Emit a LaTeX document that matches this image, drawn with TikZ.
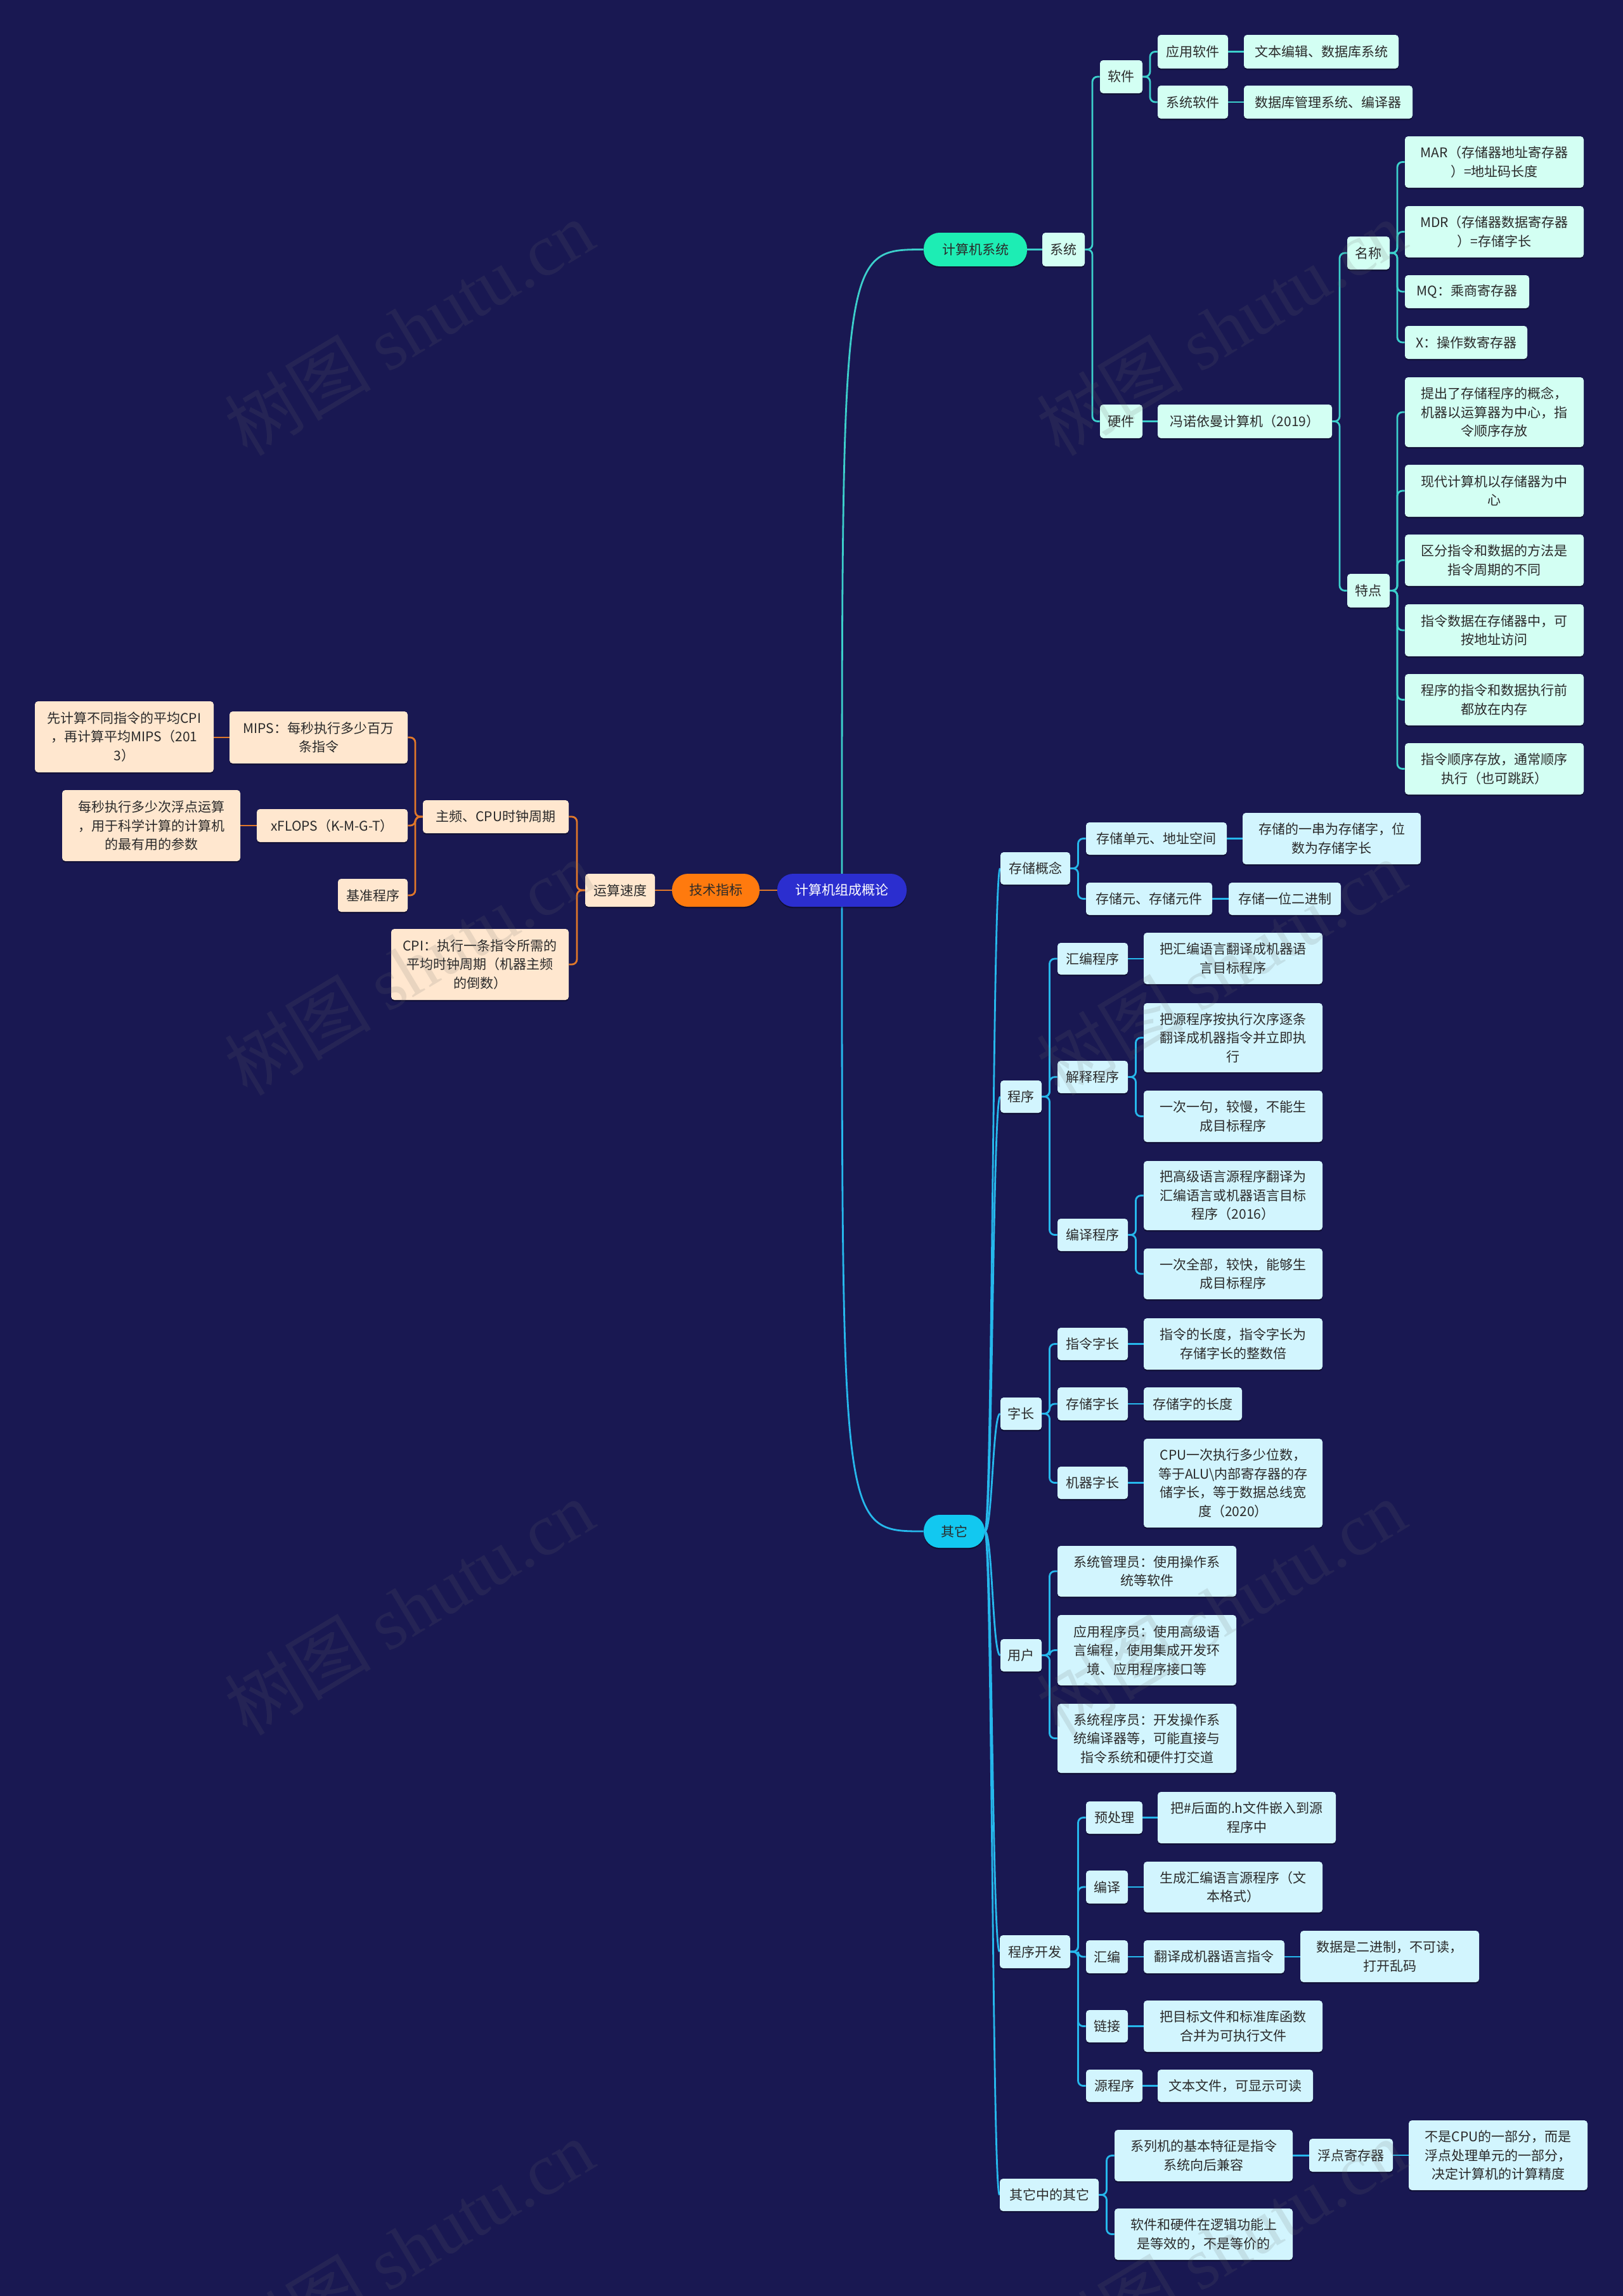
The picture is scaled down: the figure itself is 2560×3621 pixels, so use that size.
\documentclass[tikz,border=0pt]{standalone}
\usepackage{fontspec}
\setmainfont{Noto Sans CJK SC}
\newfontfamily\wmserif{Liberation Serif}
\usetikzlibrary{calc,shadows}
\pgfdeclarelayer{bg}\pgfdeclarelayer{edges}\pgfdeclarelayer{wm}
\pgfsetlayers{bg,edges,main,wm}
\definecolor{bgc}{HTML}{191852}
\definecolor{rootc}{HTML}{2B2ECF}
\definecolor{orangec}{HTML}{FF7A0E}
\definecolor{tealc}{HTML}{1DEDB4}
\definecolor{cyanc}{HTML}{12C8F0}
\definecolor{peach}{HTML}{FFE7CF}
\definecolor{mint}{HTML}{D3FFF3}
\definecolor{pcyan}{HTML}{D2F5FE}
\definecolor{lorange}{HTML}{E0782A}
\definecolor{lteal}{HTML}{3CCFCB}
\definecolor{lsky}{HTML}{26B8EC}
\definecolor{txt}{HTML}{2A2A2A}
\definecolor{wmc}{HTML}{6A6A6A}
\tikzset{
 mm/.style={inner sep=0pt, align=center, rounded corners=2.5pt, text=txt,
   font=\fontsize{10.5pt}{14.75pt}\selectfont,
   drop shadow={shadow xshift=0pt, shadow yshift=-1.2pt, opacity=0.35, fill=black}},
 pe/.style={mm, fill=peach},
 mi/.style={mm, fill=mint},
 cy/.style={mm, fill=pcyan},
 pill/.style={mm, rounded corners=12.5pt},
 eo/.style={draw=lorange, line width=1.4pt, rounded corners=4pt},
 et/.style={draw=lteal, line width=1.4pt, rounded corners=4pt},
 es/.style={draw=lsky, line width=1.4pt, rounded corners=4pt},
 wmk/.style={rotate=31, text=wmc, text opacity=0.15, inner sep=0pt,
   font=\fontsize{58pt}{60pt}\selectfont}
}
\newcommand\mnode[7][]{\node[#1, minimum width={0.5pt*(#5-#3)}, minimum height={0.5pt*(#6-#4)}] (#2) at ({(#3+#5)/2},{(#4+#6)/2}) {#7};}
\newcommand\elR[3][]{\path ($(#2.east)!0.5!(#3.west)$) coordinate (tmpm);
  \draw[#1] (#2.east) -- (#2.east -| tmpm) |- (#3.west);}
\newcommand\elL[3][]{\path ($(#2.west)!0.5!(#3.east)$) coordinate (tmpm);
  \draw[#1] (#2.west) -- (#2.west -| tmpm) |- (#3.east);}
\newcommand\stR[3][]{\draw[#1] (#2.east) -- (#2.east -| #3.west);}
\newcommand\stL[3][]{\draw[#1] (#2.west) -- (#2.west -| #3.east);}
\newcommand\scR[3][]{\path ($(#2.east)!0.5!(#3.west)$) coordinate (tmpm);
  \draw[#1] (#2.east) .. controls (#2.east -| tmpm) and (#3.west -| tmpm) .. (#3.west);}
\begin{document}
\begin{tikzpicture}[x=0.5pt,y=-0.5pt]
\useasboundingbox (0,0) rectangle (2560,3621);
\begin{pgfonlayer}{bg}
\fill[bgc] (0,0) rectangle (2560,3621);
\end{pgfonlayer}
% ---------- root & left branch ----------
\mnode[pill, fill=rootc, text=white]{root}{1226}{1378}{1430}{1430}{计算机组成概论}
\mnode[pill, fill=orangec]{jszb}{1060}{1378}{1198}{1430}{技术指标}
\mnode[pe]{yssd}{923}{1378}{1033}{1430}{运算速度}
\mnode[pe]{zp}{667}{1262}{897}{1314}{主频、CPU时钟周期}
\mnode[pe]{cpi}{617}{1465}{897}{1577}{CPI：执行一条指令所需的\\平均时钟周期（机器主频\\的倒数）}
\mnode[pe]{mips}{362}{1122}{643}{1204}{MIPS：每秒执行多少百万\\条指令}
\mnode[pe]{xflops}{405}{1276}{643}{1328}{xFLOPS（K-M-G-T）}
\mnode[pe]{jzcx}{533}{1386}{643}{1438}{基准程序}
\mnode[pe]{xjs}{55}{1106}{337}{1218}{先计算不同指令的平均CPI\\，再计算平均MIPS（201\\3）}
\mnode[pe]{mmz}{98}{1246}{379}{1358}{每秒执行多少次浮点运算\\，用于科学计算的计算机\\的最有用的参数}
% ---------- 计算机系统 ----------
\mnode[pill, fill=tealc]{jsjxt}{1457}{367}{1620}{420}{计算机系统}
\mnode[mi]{xt}{1644}{367}{1711}{420}{系统}
\mnode[mi]{rj}{1735}{95}{1802}{147}{软件}
\mnode[mi]{yj}{1735}{638}{1802}{691}{硬件}
\mnode[mi]{yyrj}{1826}{55}{1937}{108}{应用软件}
\mnode[mi]{xtrj}{1826}{135}{1937}{187}{系统软件}
\mnode[mi]{wbbj}{1962}{55}{2206}{108}{文本编辑、数据库系统}
\mnode[mi]{sjkgl}{1962}{135}{2228}{187}{数据库管理系统、编译器}
\mnode[mi]{fnym}{1826}{638}{2101}{691}{冯诺依曼计算机（2019）}
\mnode[mi]{mc}{2125}{373}{2192}{425}{名称}
\mnode[mi]{td}{2125}{905}{2192}{958}{特点}
\mnode[mi]{mar}{2216}{215}{2498}{296}{MAR（存储器地址寄存器\\）=地址码长度}
\mnode[mi]{mdr}{2216}{325}{2498}{406}{MDR（存储器数据寄存器\\）=存储字长}
\mnode[mi]{mq}{2216}{434}{2412}{486}{MQ：乘商寄存器}
\mnode[mi]{xop}{2216}{514}{2409}{566}{X：操作数寄存器}
\mnode[mi]{tca}{2216}{595}{2498}{705}{提出了存储程序的概念，\\机器以运算器为中心，指\\令顺序存放}
\mnode[mi]{tcb}{2216}{733}{2498}{815}{现代计算机以存储器为中\\心}
\mnode[mi]{tcc}{2216}{843}{2498}{924}{区分指令和数据的方法是\\指令周期的不同}
\mnode[mi]{tcd}{2216}{953}{2498}{1035}{指令数据在存储器中，可\\按地址访问}
\mnode[mi]{tce}{2216}{1063}{2498}{1144}{程序的指令和数据执行前\\都放在内存}
\mnode[mi]{tcf}{2216}{1172}{2498}{1253}{指令顺序存放，通常顺序\\执行（也可跳跃）}
% ---------- 其它 ----------
\mnode[pill, fill=cyanc]{qt}{1457}{2389}{1553}{2441}{其它}
\mnode[cy]{ccgn}{1578}{1344}{1688}{1395}{存储概念}
\mnode[cy]{ccdy}{1713}{1297}{1935}{1348}{存储单元、地址空间}
\mnode[cy]{ccdyt}{1960}{1282}{2241}{1363}{存储的一串为存储字，位\\数为存储字长}
\mnode[cy]{ccy}{1713}{1392}{1912}{1443}{存储元、存储元件}
\mnode[cy]{ccyt}{1938}{1392}{2115}{1443}{存储一位二进制}
\mnode[cy]{cx}{1578}{1704}{1643}{1755}{程序}
\mnode[cy]{hbcx}{1668}{1487}{1779}{1537}{汇编程序}
\mnode[cy]{hbcxt}{1804}{1471}{2086}{1552}{把汇编语言翻译成机器语\\言目标程序}
\mnode[cy]{jscx}{1668}{1673}{1779}{1724}{解释程序}
\mnode[cy]{jsa}{1804}{1582}{2086}{1691}{把源程序按执行次序逐条\\翻译成机器指令并立即执\\行}
\mnode[cy]{jsb}{1804}{1720}{2086}{1801}{一次一句，较慢，不能生\\成目标程序}
\mnode[cy]{bycx}{1668}{1922}{1779}{1973}{编译程序}
\mnode[cy]{bya}{1804}{1831}{2086}{1940}{把高级语言源程序翻译为\\汇编语言或机器语言目标\\程序（2016）}
\mnode[cy]{byb}{1804}{1969}{2086}{2049}{一次全部，较快，能够生\\成目标程序}
\mnode[cy]{zc}{1578}{2204}{1643}{2255}{字长}
\mnode[cy]{zlzc}{1668}{2094}{1779}{2145}{指令字长}
\mnode[cy]{zlzct}{1804}{2079}{2086}{2160}{指令的长度，指令字长为\\存储字长的整数倍}
\mnode[cy]{cczc}{1668}{2188}{1779}{2240}{存储字长}
\mnode[cy]{cczct}{1804}{2188}{1959}{2240}{存储字的长度}
\mnode[cy]{jqzc}{1668}{2313}{1779}{2364}{机器字长}
\mnode[cy]{jqzct}{1804}{2269}{2086}{2409}{CPU一次执行多少位数，\\等于ALU\textbackslash 内部寄存器的存\\储字长，等于数据总线宽\\度（2020）}
\mnode[cy]{yh}{1578}{2585}{1643}{2636}{用户}
\mnode[cy]{yha}{1668}{2438}{1950}{2518}{系统管理员：使用操作系\\统等软件}
\mnode[cy]{yhb}{1668}{2547}{1950}{2658}{应用程序员：使用高级语\\言编程，使用集成开发环\\境、应用程序接口等}
\mnode[cy]{yhc}{1668}{2687}{1950}{2796}{系统程序员：开发操作系\\统编译器等，可能直接与\\指令系统和硬件打交道}
\mnode[cy]{cxkf}{1577}{3052}{1688}{3104}{程序开发}
\mnode[cy]{ycl}{1713}{2841}{1802}{2892}{预处理}
\mnode[cy]{yclt}{1826}{2826}{2107}{2907}{把\#后面的.h文件嵌入到源\\程序中}
\mnode[cy]{byi}{1713}{2950}{1779}{3002}{编译}
\mnode[cy]{byit}{1804}{2936}{2086}{3016}{生成汇编语言源程序（文\\本格式）}
\mnode[cy]{hb}{1713}{3060}{1779}{3112}{汇编}
\mnode[cy]{hbt}{1804}{3060}{2026}{3112}{翻译成机器语言指令}
\mnode[cy]{hbtt}{2051}{3045}{2333}{3126}{数据是二进制，不可读，\\打开乱码}
\mnode[cy]{lj}{1713}{3170}{1779}{3221}{链接}
\mnode[cy]{ljt}{1804}{3155}{2086}{3236}{把目标文件和标准库函数\\合并为可执行文件}
\mnode[cy]{ycx}{1713}{3264}{1802}{3315}{源程序}
\mnode[cy]{ycxt}{1826}{3264}{2071}{3315}{文本文件，可显示可读}
\mnode[cy]{qtqt}{1577}{3436}{1733}{3487}{其它中的其它}
\mnode[cy]{xlj}{1758}{3359}{2039}{3440}{系列机的基本特征是指令\\系统向后兼容}
\mnode[cy]{fdjcq}{2065}{3373}{2197}{3425}{浮点寄存器}
\mnode[cy]{bscpu}{2222}{3344}{2504}{3454}{不是CPU的一部分，而是\\浮点处理单元的一部分，\\决定计算机的计算精度}
\mnode[cy]{rjyj}{1758}{3483}{2039}{3564}{软件和硬件在逻辑功能上\\是等效的，不是等价的}
% ---------- edges ----------
\begin{pgfonlayer}{edges}
\stL[eo]{root}{jszb}
\stL[eo]{jszb}{yssd}
\elL[eo]{yssd}{zp}
\elL[eo]{yssd}{cpi}
\elL[eo]{zp}{mips}
\elL[eo]{zp}{xflops}
\elL[eo]{zp}{jzcx}
\stL[eo]{mips}{xjs}
\stL[eo]{xflops}{mmz}
\draw[et] (root.center) .. controls (root.center |- jsjxt.west) and (root.center |- jsjxt.west) .. (jsjxt.west);
\draw[es] (root.center) .. controls (root.center |- qt.west) and (root.center |- qt.west) .. (qt.west);
\stR[et]{jsjxt}{xt}
\elR[et]{xt}{rj}
\elR[et]{xt}{yj}
\elR[et]{rj}{yyrj}
\elR[et]{rj}{xtrj}
\stR[et]{yyrj}{wbbj}
\stR[et]{xtrj}{sjkgl}
\stR[et]{yj}{fnym}
\elR[et]{fnym}{mc}
\elR[et]{fnym}{td}
\elR[et]{mc}{mar}
\elR[et]{mc}{mdr}
\elR[et]{mc}{mq}
\elR[et]{mc}{xop}
\elR[et]{td}{tca}
\elR[et]{td}{tcb}
\elR[et]{td}{tcc}
\elR[et]{td}{tcd}
\elR[et]{td}{tce}
\elR[et]{td}{tcf}
\scR[es]{qt}{ccgn}
\scR[es]{qt}{cx}
\scR[es]{qt}{zc}
\scR[es]{qt}{yh}
\scR[es]{qt}{cxkf}
\scR[es]{qt}{qtqt}
\elR[es]{ccgn}{ccdy}
\elR[es]{ccgn}{ccy}
\stR[es]{ccdy}{ccdyt}
\stR[es]{ccy}{ccyt}
\elR[es]{cx}{hbcx}
\elR[es]{cx}{jscx}
\elR[es]{cx}{bycx}
\stR[es]{hbcx}{hbcxt}
\elR[es]{jscx}{jsa}
\elR[es]{jscx}{jsb}
\elR[es]{bycx}{bya}
\elR[es]{bycx}{byb}
\elR[es]{zc}{zlzc}
\elR[es]{zc}{cczc}
\elR[es]{zc}{jqzc}
\stR[es]{zlzc}{zlzct}
\stR[es]{cczc}{cczct}
\stR[es]{jqzc}{jqzct}
\elR[es]{yh}{yha}
\elR[es]{yh}{yhb}
\elR[es]{yh}{yhc}
\elR[es]{cxkf}{ycl}
\elR[es]{cxkf}{byi}
\elR[es]{cxkf}{hb}
\elR[es]{cxkf}{lj}
\elR[es]{cxkf}{ycx}
\stR[es]{ycl}{yclt}
\stR[es]{byi}{byit}
\stR[es]{hb}{hbt}
\stR[es]{hbt}{hbtt}
\stR[es]{lj}{ljt}
\stR[es]{ycx}{ycxt}
\elR[es]{qtqt}{xlj}
\elR[es]{qtqt}{rjyj}
\stR[es]{xlj}{fdjcq}
\stR[es]{fdjcq}{bscpu}
\end{pgfonlayer}
% ---------- watermarks ----------
\begin{pgfonlayer}{wm}
\node[wmk] (wma) at (645,517) {树图 {\wmserif shutu.cn}};
\node[wmk] (wmb) at (1926,517) {树图 {\wmserif shutu.cn}};
\node[wmk] (wmc) at (645,1526) {树图 {\wmserif shutu.cn}};
\node[wmk] (wmd) at (1926,1526) {树图 {\wmserif shutu.cn}};
\node[wmk] (wme) at (645,2535) {树图 {\wmserif shutu.cn}};
\node[wmk] (wmf) at (1926,2535) {树图 {\wmserif shutu.cn}};
\node[wmk] (wmg) at (645,3544) {树图 {\wmserif shutu.cn}};
\node[wmk] (wmh) at (1926,3544) {树图 {\wmserif shutu.cn}};
\end{pgfonlayer}
\end{tikzpicture}
\end{document}
